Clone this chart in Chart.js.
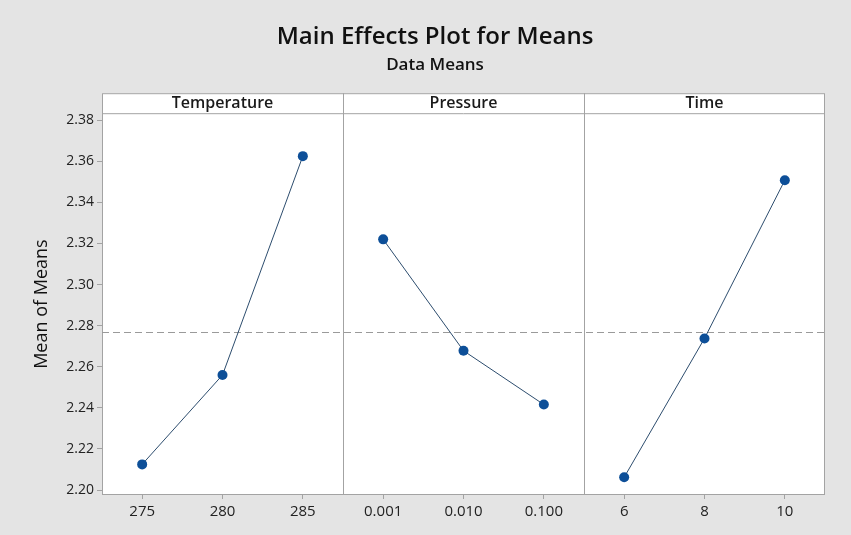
<!DOCTYPE html>
<html>
<head>
<meta charset="utf-8">
<script src="https://cdn.jsdelivr.net/npm/chart.js@4.4.1/dist/chart.umd.min.js"></script>
<style>
  html, body { margin: 0; padding: 0; background: #e4e4e4; }
  #wrap { width: 851px; height: 535px; }
</style>
</head>
<body>
<div id="wrap"><canvas id="main-effects"></canvas></div>
<script>
// factors and their levels, as printed on the plot
const factors = ['Temperature', 'Pressure', 'Time']
const temperatureLevels = ['275', '280', '285']
const pressureLevels = ['0.001', '0.010', '0.100']
const timeLevels = ['6', '8', '10']

// mean of means at each level
const temperatureMeans = [2.2125, 2.2560, 2.3625]
const pressureMeans = [2.3220, 2.2678, 2.2416]
const timeMeans = [2.2062, 2.2738, 2.3508]

const yTicks = [2.20, 2.22, 2.24, 2.26, 2.28, 2.30, 2.32, 2.34, 2.36, 2.38]

const levelLabels = [].concat(temperatureLevels, pressureLevels, timeLevels)
// grand mean (the dashed reference line)
const grandMean = temperatureMeans.reduce((a, b) => a + b, 0) / temperatureMeans.length

const lineColor = '#2d4d6e'
const pointColor = '#0d4f98'
const frameColor = '#a3a3a3'
const fontFamily = '"Open Sans", "Noto Sans", sans-serif'

// each factor panel sits on 3 slots of one shared x axis: 1-3, 4-6, 7-9
function panelData (means, panel) {
  return means.map((v, i) => ({ x: panel * 3 + i + 1, y: v }))
}

function series (means, panel) {
  return {
    data: panelData(means, panel),
    borderColor: lineColor,
    borderWidth: 1,
    pointRadius: 5,
    pointBackgroundColor: pointColor,
    pointBorderColor: pointColor,
    pointBorderWidth: 0,
    tension: 0
  }
}

// white plot area, panel frames, factor header strip and the grand mean line
const panelsPlugin = {
  id: 'panels',
  beforeDraw (chart) {
    const { ctx, chartArea: a } = chart
    ctx.save()
    ctx.fillStyle = '#ffffff'
    ctx.fillRect(a.left, a.top - 20, a.right - a.left, a.bottom - a.top + 20)
    ctx.restore()
  },
  beforeDatasetsDraw (chart) {
    const { ctx, chartArea: a, scales } = chart
    const x = scales.x
    const y = scales.y
    ctx.save()
    ctx.strokeStyle = frameColor
    ctx.lineWidth = 1
    // frame of plot + header
    ctx.strokeRect(a.left + 0.5, a.top - 19.5, a.right - a.left - 1, a.bottom - a.top + 19)
    ctx.beginPath()
    ctx.moveTo(a.left, a.top + 0.5)
    ctx.lineTo(a.right, a.top + 0.5)
    ;[3.5, 6.5].forEach((v) => {
      const px = Math.round(x.getPixelForValue(v)) + 0.5
      ctx.moveTo(px, a.top - 20)
      ctx.lineTo(px, a.bottom)
    })
    ctx.stroke()

    // header labels
    ctx.fillStyle = '#1a1a1a'
    ctx.font = '600 16px ' + fontFamily
    ctx.textAlign = 'center'
    ctx.textBaseline = 'middle'
    factors.forEach((f, i) => {
      ctx.fillText(f, x.getPixelForValue(i * 3 + 2), a.top - 10)
    })

    // grand mean
    const gy = Math.round(y.getPixelForValue(grandMean)) + 0.5
    ctx.strokeStyle = '#9a9a9a'
    ctx.setLineDash([7, 4])
    ctx.beginPath()
    ctx.moveTo(a.left, gy)
    ctx.lineTo(a.right, gy)
    ctx.stroke()
    ctx.restore()
  }
}

const chart = new Chart(document.getElementById('main-effects').getContext('2d'), {
  type: 'line',
  data: {
    datasets: [
      series(temperatureMeans, 0),
      series(pressureMeans, 1),
      series(timeMeans, 2)
    ]
  },
  plugins: [panelsPlugin],
  options: {
    responsive: true,
    maintainAspectRatio: false,
    animation: false,
    layout: { padding: { top: 0, right: 26, bottom: 0, left: 45 } },
    scales: {
      x: {
        type: 'linear',
        min: 0.5,
        max: 9.5,
        afterBuildTicks: (scale) => {
          scale.ticks = levelLabels.map((l, i) => ({ value: i + 1 }))
        },
        afterFit: (scale) => { scale.height = 40 },
        grid: { display: true, drawOnChartArea: false, tickLength: 4, color: frameColor },
        border: { display: false },
        ticks: {
          padding: 4,
          color: '#222222',
          font: { family: fontFamily, size: 15 },
          callback: (v) => levelLabels[Math.round(v) - 1]
        }
      },
      y: {
        min: 2.1976,
        max: 2.3834,
        afterBuildTicks: (scale) => {
          scale.ticks = yTicks.map((v) => ({ value: v }))
        },
        afterFit: (scale) => { scale.width = 57 },
        grid: { display: true, drawOnChartArea: false, tickLength: 5, color: frameColor },
        border: { display: false },
        ticks: {
          padding: 3,
          color: '#222222',
          font: { family: fontFamily, size: 14 },
          callback: (v) => v.toFixed(2)
        },
        title: {
          display: true,
          text: 'Mean of Means',
          color: '#111111',
          font: { family: fontFamily, size: 18 },
          padding: { top: -14, bottom: 0 }
        }
      }
    },
    plugins: {
      legend: { display: false },
      tooltip: { enabled: false },
      title: {
        display: true,
        text: 'Main Effects Plot for Means',
        color: '#111111',
        font: { family: fontFamily, size: 24, weight: '600' },
        padding: { top: 23, bottom: 2 }
      },
      subtitle: {
        display: true,
        text: 'Data Means',
        color: '#111111',
        font: { family: fontFamily, size: 17, weight: '600' },
        padding: { top: 1, bottom: 38 }
      }
    }
  }
})
</script>
</body>
</html>
